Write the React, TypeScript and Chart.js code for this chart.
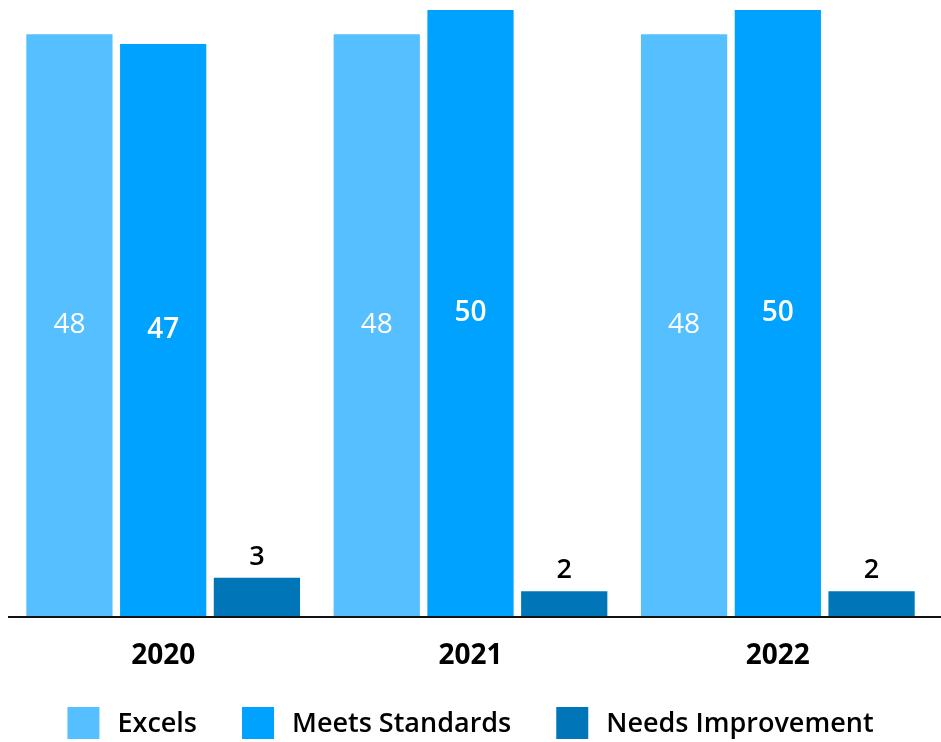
import React, { useEffect, useRef } from "react";
import { Chart, registerables } from "chart.js";

Chart.register(...registerables);

const categories = ["2020", "2021", "2022"];
const seriesNames = ["Excels", "Meets Standards", "Needs Improvement"];
const excels = [48, 48, 48];
const meetsStandards = [47.2, 50, 50];
const needsImprovement = [3.15, 2.05, 2.05];
const colors = ["#55BFFF", "#00A2FF", "#0075B8"];

const FONT = "'Open Sans', 'Noto Sans', sans-serif";

const labelPlugin = {
  id: "barLabels",
  afterDatasetsDraw(chart: any) {
    const ctx = chart.ctx;
    ctx.save();
    ctx.strokeStyle = "#111";
    ctx.lineWidth = 2;
    ctx.beginPath();
    ctx.moveTo(8, chart.chartArea.bottom + 1);
    ctx.lineTo(chart.width, chart.chartArea.bottom + 1);
    ctx.stroke();

    chart.data.datasets.forEach((ds: any, di: number) => {
      const meta = chart.getDatasetMeta(di);
      meta.data.forEach((bar: any, i: number) => {
        const v = Math.round(ds.data[i]);
        ctx.textAlign = "center";
        ctx.textBaseline = "middle";
        if (di === 0) {
          ctx.fillStyle = "#ffffff";
          ctx.font = `400 28px ${FONT}`;
          ctx.fillText(String(v), bar.x, (bar.y + bar.base) / 2);
        } else if (di === 1) {
          ctx.fillStyle = "#ffffff";
          ctx.font = `600 28px ${FONT}`;
          ctx.fillText(String(v), bar.x, (bar.y + bar.base) / 2);
        } else {
          ctx.fillStyle = "#000000";
          ctx.font = `600 27px ${FONT}`;
          ctx.fillText(String(v), bar.x, bar.y - 21);
        }
      });
    });
    ctx.restore();
  },
  afterDraw(chart: any) {
    const ctx = chart.ctx;
    ctx.save();
    ctx.font = `600 27px ${FONT}`;
    const box = 32;
    const gap = 18;
    const itemGap = 45;
    const widths = seriesNames.map((n) => box + gap + ctx.measureText(n).width);
    const total = widths.reduce((a, b) => a + b, 0) + itemGap * (seriesNames.length - 1);
    let x = chart.width / 2 - total / 2;
    const cy = 723;
    ctx.textBaseline = "middle";
    ctx.textAlign = "left";
    seriesNames.forEach((n, i) => {
      ctx.fillStyle = colors[i];
      ctx.fillRect(x, cy - box / 2, box, box);
      ctx.fillStyle = "#000";
      ctx.fillText(n, x + box + gap, cy + 1);
      x += widths[i] + itemGap;
    });
    ctx.restore();
  },
};

export default function App() {
  const ref = useRef<HTMLCanvasElement>(null);
  useEffect(() => {
    if (!ref.current) return;
    const chart = new Chart(ref.current, {
      type: "bar",
      data: {
        labels: categories,
        datasets: [
          { label: seriesNames[0], data: excels, backgroundColor: colors[0] },
          { label: seriesNames[1], data: meetsStandards, backgroundColor: colors[1] },
          { label: seriesNames[2], data: needsImprovement, backgroundColor: colors[2] },
        ],
      },
      options: {
        animation: false,
        responsive: false,
        maintainAspectRatio: false,
        layout: { padding: { left: 9.5, right: 9.5, top: 10, bottom: 0 } },
        datasets: { bar: { categoryPercentage: 0.915, barPercentage: 0.92 } } as any,
        plugins: {
          legend: { display: false },
          tooltip: { enabled: false },
        },
        scales: {
          x: {
            grid: { display: false, drawTicks: false },
            border: { display: false },
            ticks: {
              padding: 23,
              color: "#000",
              font: { family: FONT, size: 28, weight: "bold" as any },
            },
            afterFit: (scale: any) => {
              scale.height = 126;
            },
          },
          y: {
            display: false,
            min: 0,
            max: 50,
          },
        },
      },
      plugins: [labelPlugin],
    });
    return () => chart.destroy();
  }, []);
  return (
    <div style={{ position: "fixed", left: 0, top: 0, width: 941, height: 742, background: "#fff" }}>
      <canvas ref={ref} width={941} height={742} style={{ width: 941, height: 742 }} />
    </div>
  );
}
